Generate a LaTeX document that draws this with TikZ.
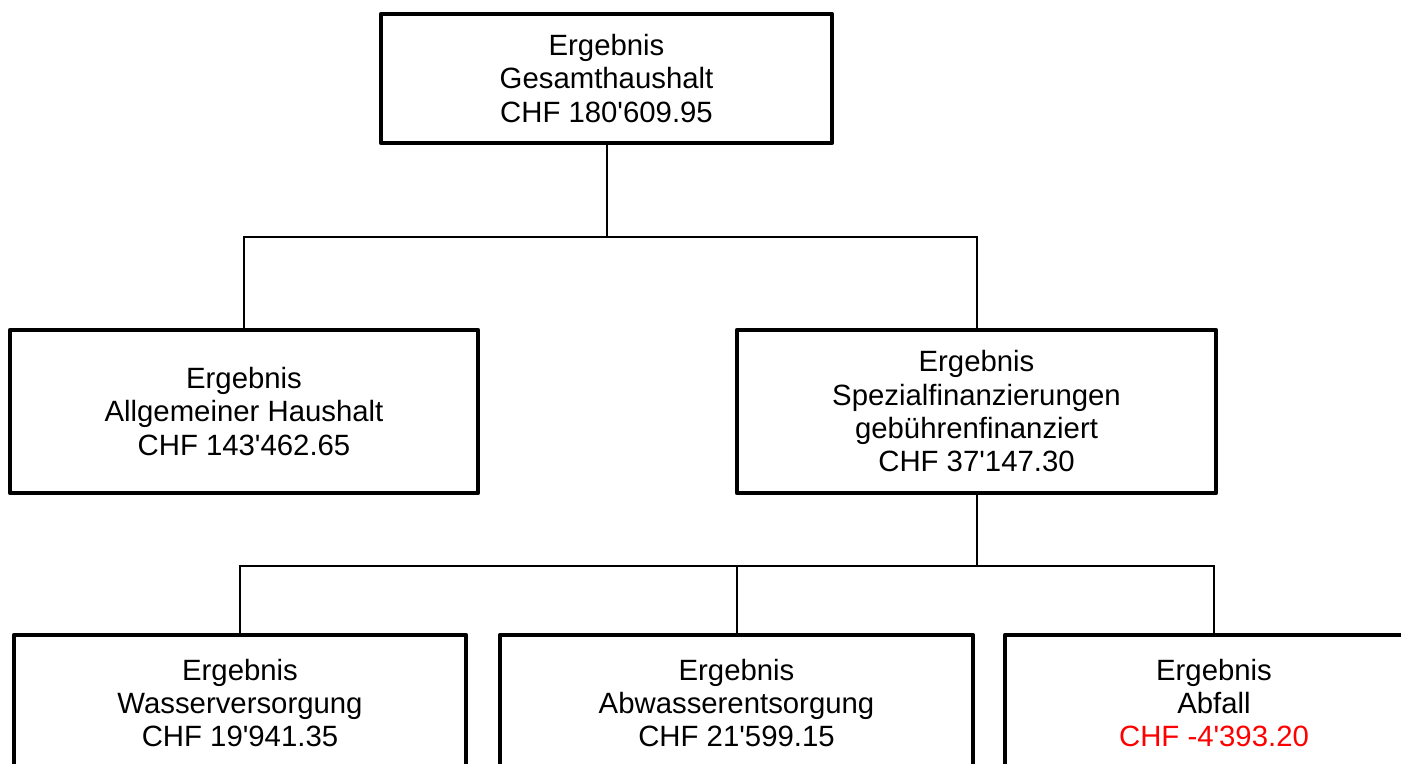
\documentclass[tikz,border=0pt]{standalone}
\usepackage{fontspec}
\setmainfont{Liberation Sans}
\newcommand{\ap}{\textquotesingle}
\begin{document}
\begin{tikzpicture}[x=0.75pt,y=-0.75pt,
  box/.style={draw=black,line width=3.4pt,line join=round,rectangle,inner sep=0pt,
    align=center,font=\fontsize{22pt}{25pt}\selectfont},
  conn/.style={draw=black,line width=1.5pt}]
\useasboundingbox (0,0) rectangle (1401,763);
\clip (0,0) rectangle (1401,763);
\node[box,minimum width=338.25pt,minimum height=96.75pt] (top) at (606.5,78.5)
  {Ergebnis\\Gesamthaushalt\\CHF 180\ap609.95};
\node[box,minimum width=351pt,minimum height=122.25pt] (allg) at (244,411.5)
  {Ergebnis\\Allgemeiner Haushalt\\CHF 143\ap462.65};
\node[box,minimum width=359.25pt,minimum height=122.25pt] (spez) at (976.5,411.5)
  {Ergebnis\\Spezialfinanzierungen\\gebührenfinanziert\\CHF 37\ap147.30};
\node[box,minimum width=339pt,minimum height=102pt] (wasser) at (240,703)
  {Ergebnis\\Wasserversorgung\\CHF 19\ap941.35};
\node[box,minimum width=354.75pt,minimum height=102pt] (abw) at (736.5,703)
  {Ergebnis\\Abwasserentsorgung\\CHF 21\ap599.15};
\node[box,minimum width=313.5pt,minimum height=102pt] (abf) at (1214,703)
  {Ergebnis\\Abfall\\\textcolor{red}{CHF -4\ap393.20}};
\coordinate (j1) at (top.south |- 0,237);
\coordinate (j2) at (spez.south |- 0,566);
\draw[conn] (top.south) -- (j1);
\draw[conn] (allg.north) |- (j1) -| (spez.north);
\draw[conn] (spez.south) -- (j2);
\draw[conn] (wasser.north) |- (j2) -| (abf.north);
\draw[conn] (abw.north) -- (abw.north |- j2);
\end{tikzpicture}
\end{document}
